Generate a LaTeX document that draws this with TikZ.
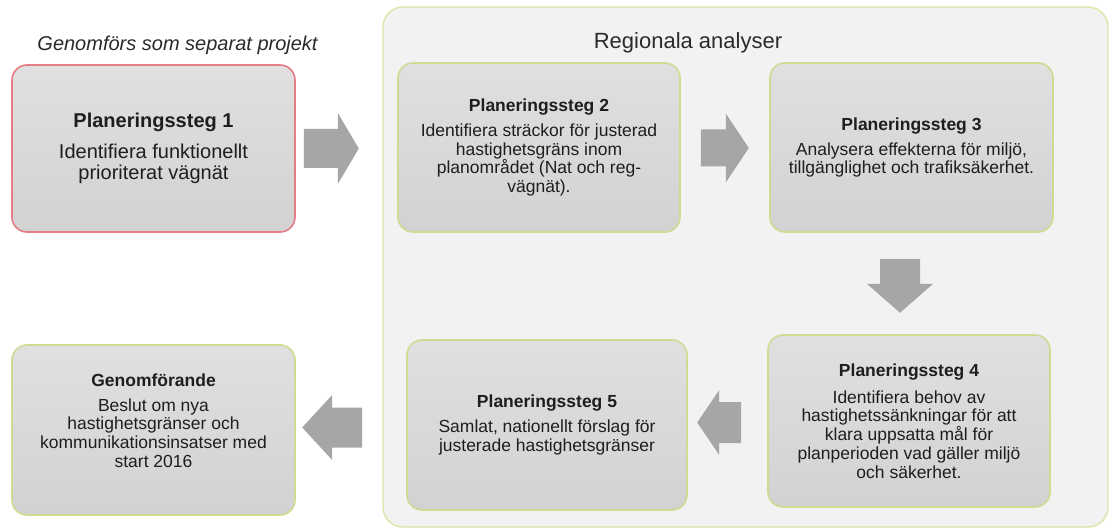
\documentclass[tikz,border=0pt]{standalone}
\usepackage{fontspec}
\setmainfont{Liberation Sans}
\usetikzlibrary{calc}
\definecolor{boxtop}{HTML}{E0E0E0}
\definecolor{boxbot}{HTML}{D2D2D2}
\definecolor{greenborder}{HTML}{CEDB92}
\definecolor{redborder}{HTML}{E67C86}
\definecolor{contfill}{HTML}{F2F2F2}
\definecolor{contborder}{HTML}{DCE6A8}
\definecolor{arrowfill}{HTML}{A6A6A6}
\definecolor{textcol}{HTML}{1E1E1E}
\definecolor{titlecol}{HTML}{2A2A2A}
\tikzset{
  stepbox/.style={rounded corners=15pt, draw=greenborder, line width=1.6pt,
    top color=boxtop, bottom color=boxbot, align=center, text=textcol,
    inner sep=4pt, font=\fontsize{17.5}{18.8}\selectfont},
  container/.style={rounded corners=20pt, draw=contborder, line width=1.4pt, fill=contfill},
  blockarrow/.style={fill=arrowfill, draw=none}
}
\begin{document}
\begin{tikzpicture}[x=1pt,y=-1pt]
\fill[white] (0,0) rectangle (1112,532);
\useasboundingbox (0,0) rectangle (1112,532);

% container
\node[container, minimum width=725pt, minimum height=520pt] (reg) at (745.5,267) {};
\node[font=\fontsize{22}{26}\selectfont, text=titlecol] (regtitle) at (688,43) {Regionala analyser};
\node[font=\itshape\fontsize{20}{24}\selectfont, text=titlecol] (sep) at (177.5,45) {Genomförs som separat projekt};

% boxes
\node[stepbox, draw=redborder, minimum width=283pt, minimum height=167pt, font=\fontsize{20}{21}\selectfont] (b1) at (153.5,148.5)
  {\textbf{Planeringssteg 1}\\[10pt]Identifiera funktionellt\\prioriterat vägnät};
\node[stepbox, minimum width=282pt, minimum height=169pt] (b2) at (539,147.5)
  {\textbf{Planeringssteg 2}\\[6pt]Identifiera sträckor för justerad\\hastighetsgräns inom\\planområdet (Nat och reg-\\vägnät).};
\node[stepbox, minimum width=283pt, minimum height=169pt] (b3) at (911.5,147.5)
  {\textbf{Planeringssteg 3}\\[6pt]Analysera effekterna för miljö,\\tillgänglighet och trafiksäkerhet.};
\node[stepbox, minimum width=282pt, minimum height=172pt] (b4) at (909,421)
  {\textbf{Planeringssteg 4}\\[8pt]Identifiera behov av\\hastighetssänkningar för att\\klara uppsatta mål för\\planperioden vad gäller miljö\\och säkerhet.};
\node[stepbox, minimum width=280pt, minimum height=170pt] (b5) at (547,425)
  {\textbf{Planeringssteg 5}\\[6pt]Samlat, nationellt förslag för\\justerade hastighetsgränser};
\node[stepbox, minimum width=283pt, minimum height=170pt] (b6) at (153.5,430)
  {\textbf{Genomförande}\\[6pt]Beslut om nya\\hastighetsgränser och\\kommunikationsinsatser med\\start 2016\\ \mbox{}};

% arrows
\coordinate (a1) at ($(b1.east)+(8,0)$);
\fill[blockarrow] ($(a1)+(0,-19.5)$) -- ($(a1)+(34,-19.5)$) -- ($(a1)+(34,-35.5)$) -- ($(a1)+(55,0)$)
  -- ($(a1)+(34,35.5)$) -- ($(a1)+(34,19.5)$) -- ($(a1)+(0,19.5)$) -- cycle;

\coordinate (a2) at ($(b2.east)+(20,0.5)$);
\fill[blockarrow] ($(a2)+(0,-18.5)$) -- ($(a2)+(25,-18.5)$) -- ($(a2)+(25,-34.5)$) -- ($(a2)+(48,0)$)
  -- ($(a2)+(25,34.5)$) -- ($(a2)+(25,18.5)$) -- ($(a2)+(0,18.5)$) -- cycle;

\coordinate (a3) at ($(b3.south)+(-11.5,26)$);
\fill[blockarrow] ($(a3)+(-20,0)$) -- ($(a3)+(-20,25)$) -- ($(a3)+(-33,25)$) -- ($(a3)+(0,54)$)
  -- ($(a3)+(33,25)$) -- ($(a3)+(20,25)$) -- ($(a3)+(20,0)$) -- cycle;

\coordinate (a4) at ($(b4.west)+(-26,1.5)$);
\fill[blockarrow] ($(a4)+(0,-20.5)$) -- ($(a4)+(-22,-20.5)$) -- ($(a4)+(-22,-32.5)$) -- ($(a4)+(-44,0)$)
  -- ($(a4)+(-22,32.5)$) -- ($(a4)+(-22,20.5)$) -- ($(a4)+(0,20.5)$) -- cycle;

\coordinate (a5) at ($(b5.west)+(-44,2.5)$);
\fill[blockarrow] ($(a5)+(0,-20)$) -- ($(a5)+(-30,-20)$) -- ($(a5)+(-30,-32.5)$) -- ($(a5)+(-60,0)$)
  -- ($(a5)+(-30,32.5)$) -- ($(a5)+(-30,20)$) -- ($(a5)+(0,20)$) -- cycle;
\end{tikzpicture}
\end{document}
